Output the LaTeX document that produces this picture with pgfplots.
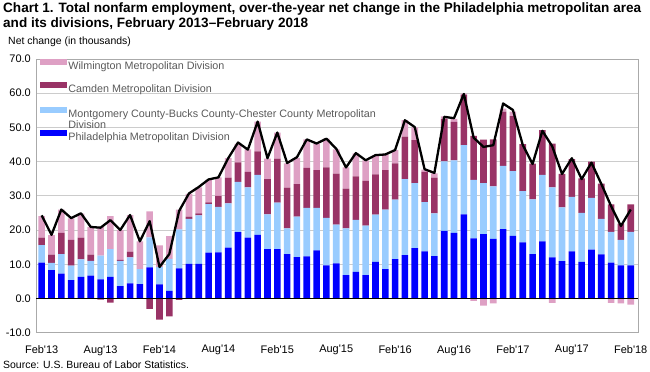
\documentclass[border=0pt]{standalone}
\usepackage{pgfplots}
\pgfplotsset{compat=1.18}
\usepackage{pgfplotstable}
\usepackage{fontspec}
\setmainfont{Liberation Sans}
\definecolor{phila}{RGB}{0,0,255}
\definecolor{mont}{RGB}{153,204,255}
\definecolor{camden}{RGB}{153,51,102}
\definecolor{wilm}{RGB}{222,160,196}
\definecolor{gridc}{RGB}{204,204,204}
\definecolor{axisc}{RGB}{170,170,170}
\definecolor{legtext}{RGB}{89,89,89}

\pgfplotstableread{
x P M C W Cn Wn T
0 10.5 5.1 2.2 6.3 0 0 24.3
1 8.3 2.1 2.4 5.7 0 0 18.6
2 7.3 5.7 6.2 6.8 0 0 26.0
3 5.4 4.2 7.5 6.3 0 0 23.5
4 6.3 5.1 6.4 7.0 0 0 24.9
5 6.7 4.3 1.8 8.1 0 0 20.9
6 5.6 6.9 0 8.4 -0.3 0 20.7
7 6.3 8.1 0 9.7 -1.2 0 22.9
8 3.6 7.4 0.3 8.7 0 0 20.0
9 4.4 7.6 1.7 10.7 0 0 24.4
10 4.2 4.4 0 8.1 0 0 16.7
11 9.1 8.8 0 7.6 -3.0 0 22.6
12 4.1 5.1 0 6.3 -6.2 0 9.2
13 2.2 9.4 0 6.6 -5.2 0 13.0
14 8.8 11.4 0 5.8 -0.4 0 25.6
15 10.1 13.2 0.6 6.7 0 0 30.7
16 10.1 14.2 0.6 7.6 0 0 32.6
17 13.4 14.2 0.5 6.6 0 0 34.8
18 13.5 13.3 3.2 5.4 0 0 35.4
19 14.9 12.9 7.5 5.7 0 0 41.0
20 19.4 14.7 5.7 5.4 0 0 45.6
21 17.8 14.7 4.5 6.6 0 0 43.5
22 18.6 17.5 6.9 8.7 0 0 51.7
23 14.4 10.2 10.3 6.0 0 0 41.0
24 14.4 13.6 12.9 7.6 0 0 48.5
25 13.0 7.5 11.9 7.1 0 0 39.6
26 12.1 11.8 9.5 7.7 0 0 41.3
27 12.3 14.2 11.7 8.3 0 0 46.5
28 14.1 12.4 11.0 7.8 0 0 45.3
29 9.7 13.9 14.7 8.4 0 0 46.7
30 10.3 11.3 14.9 7.1 0 0 43.8
31 6.8 13.7 11.6 6.2 0 0 38.3
32 7.8 15.2 12.7 6.7 0 0 42.5
33 6.8 14.5 13.1 6.0 0 0 40.4
34 10.7 13.8 11.8 5.5 0 0 41.9
35 8.6 17.4 11.5 4.6 0 0 42.1
36 11.5 17.4 10.6 3.9 0 0 43.4
37 12.7 22.2 12.4 4.8 0 0 52.1
38 14.7 19.0 12.6 3.7 0 0 50.1
39 13.8 14.4 8.8 0.7 0 0 37.8
40 12.4 12.5 10.4 1.3 0 0 36.7
41 19.8 20.3 12.3 0.8 0 0 53.1
42 19.2 21.2 11.2 0.9 0 0 52.7
43 24.6 20.2 14.7 0.4 0 0 59.8
44 17.6 17.1 12.8 0 0 -0.7 47.0
45 18.8 14.9 12.7 0 0 -2.1 44.3
46 17.4 15.4 13.7 0 0 -1.4 44.8
47 20.3 18.5 15.8 0.9 0 0 57.0
48 18.3 18.9 16.1 1.3 0 0 55.1
49 16.4 15.0 13.7 0 0 0 44.9
50 13.0 16.0 10.4 0 0 -0.2 39.3
51 16.7 19.4 13.1 0 0 -0.2 49.0
52 12.0 20.5 12.8 0 0 -1.3 44.5
53 10.9 15.7 9.8 0 0 0 36.4
54 13.8 15.9 11.0 0 0 0 41.0
55 10.7 14.3 10.1 0 0 -0.2 34.9
56 14.3 15.1 10.6 0 0 0 39.7
57 12.9 10.4 10.3 0 0 0 33.5
58 10.5 9.0 8.0 0 0 -1.3 27.0
59 9.7 7.4 4.8 0 0 -1.4 21.2
60 9.7 9.8 8.0 0 0 -1.8 26.0
}\data

\pgfplotsset{
  common/.style={
    at={(36bp,-332.7bp)}, anchor=south west,
    width=602bp, height=273.7bp, scale only axis,
    xmin=-0.58, xmax=60.74, ymin=-10, ymax=70,
    bar width=6.6bp,
  }
}
\newcommand{\st}{\rule[-4.5bp]{0pt}{14bp}}
\newcommand{\sw}[1]{\fill[#1] (0bp,1.4bp) rectangle (26bp,6.4bp);}

\begin{document}
\begin{tikzpicture}
\useasboundingbox (0,0) rectangle (650bp,-372bp);
\node[anchor=north west, inner sep=0pt, align=left, font=\bfseries\fontsize{13.6}{14.8}\selectfont] at (3bp,-2.3bp)
  {Chart 1. Total nonfarm employment, over-the-year net change in the Philadelphia metropolitan area\\and its divisions, February 2013--February 2018};
\node[anchor=west, inner sep=0pt, font=\fontsize{10.5}{12}\selectfont] at (8bp,-42bp) {Net change (in thousands)};
\node[anchor=west, inner sep=0pt, font=\fontsize{10.5}{12}\selectfont] at (3bp,-365bp) {Source: U.S. Bureau of Labor Statistics.};

\begin{axis}[common,
  ybar stacked,
  axis line style={draw=axisc, line width=0.8bp},
  ymajorgrids, grid style={gridc, line width=0.8bp},
  major tick length=0pt,
  ytick={-10,0,...,70},
  xtick={0,6,...,60},
  xticklabels={Feb\textquotesingle13,Aug\textquotesingle13,Feb\textquotesingle14,Aug\textquotesingle14,Feb\textquotesingle15,Aug\textquotesingle15,Feb\textquotesingle16,Aug\textquotesingle16,Feb\textquotesingle17,Aug\textquotesingle17,Feb\textquotesingle18},
  tick label style={font=\fontsize{11}{12}\selectfont},
  /pgf/number format/.cd, fixed, fixed zerofill, precision=1, assume math mode=true,
  /pgfplots/.cd,
  yticklabel style={inner sep=0pt, xshift=-5bp},
  xticklabel style={inner sep=0pt, yshift=-12.5bp},
  legend style={at={(rel axis cs:0,1)}, anchor=north west, xshift=4bp, yshift=0.5bp,
    draw=none, fill=none, inner sep=0pt, outer sep=0pt, row sep=0pt, column sep=2bp,
    font=\fontsize{10.8}{12}\selectfont, text=legtext,
    nodes={inner sep=0pt}},
  legend cell align=left,
]
\addplot[fill=phila, draw=none, forget plot] table[x=x, y=P] {\data};
\addplot[fill=mont, draw=none, forget plot] table[x=x, y=M] {\data};
\addplot[fill=camden, draw=none, forget plot] table[x=x, y=C] {\data};
\addplot[fill=wilm, draw=none, forget plot] table[x=x, y=W] {\data};

\addlegendimage{legend image code/.code={\sw{wilm}}}
\addlegendentry{\st Wilmington Metropolitan Division}
\addlegendimage{empty legend}\addlegendentry{\st}
\addlegendimage{legend image code/.code={\sw{camden}}}
\addlegendentry{\st Camden Metropolitan Division}
\addlegendimage{empty legend}\addlegendentry{\rule[-4.5bp]{0pt}{16.5bp}}
\addlegendimage{legend image code/.code={\sw{mont}}}
\addlegendentry{\st Montgomery County-Bucks County-Chester County Metropolitan}
\addlegendimage{empty legend}\addlegendentry{\st Division}
\addlegendimage{legend image code/.code={\sw{phila}}}
\addlegendentry{\st Philadelphia Metropolitan Division}
\end{axis}

\begin{axis}[common, hide axis, ybar, bar shift=0pt]
\addplot[fill=camden, draw=none] table[x=x, y=Cn] {\data};
\addplot[fill=wilm, draw=none] table[x=x, y=Wn] {\data};
\draw[black, line width=1bp] (axis cs:-0.58,0) -- (axis cs:60.74,0);
\addplot[sharp plot, black, line width=2.3bp, line join=round, mark=none] table[x=x, y=T] {\data};
\end{axis}
\end{tikzpicture}
\end{document}
